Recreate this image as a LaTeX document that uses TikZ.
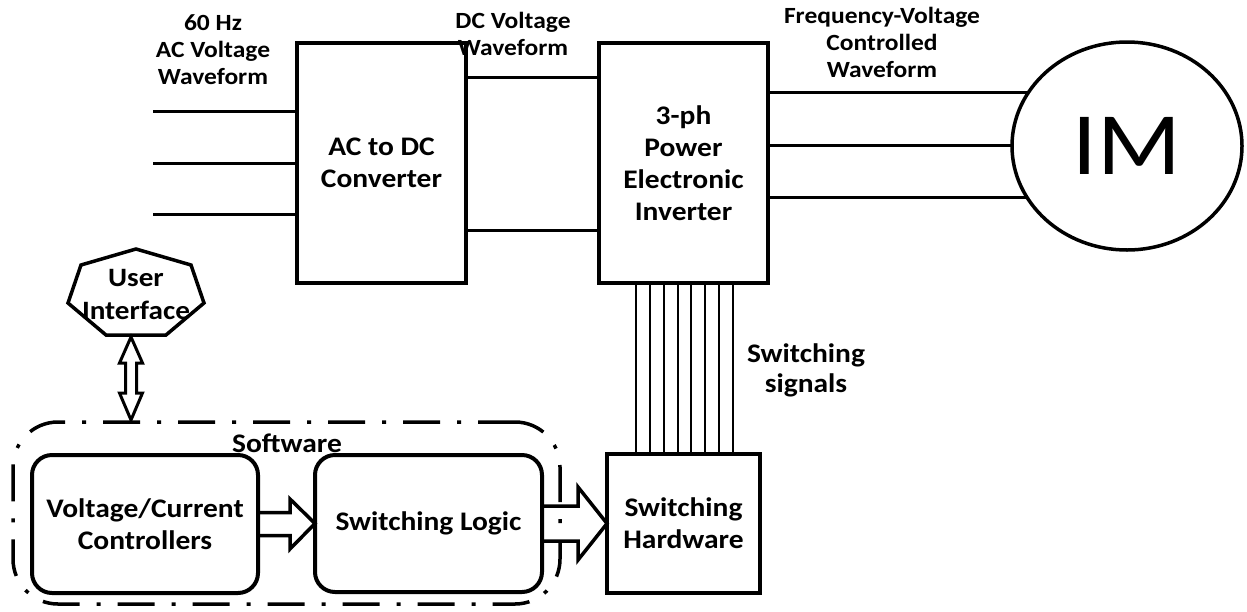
\documentclass[tikz,border=0pt]{standalone}
\usepackage{fontspec}
\setmainfont{Carlito}[FakeStretch=1.1]
\newfontfamily\imfont{Carlito}[FakeStretch=1.1]
\usetikzlibrary{shapes.geometric,calc,backgrounds}
\newcommand\bxfont{\bfseries\fontsize{26.8}{32}\selectfont}
\newcommand\lbfont{\bfseries\fontsize{23.2}{27}\selectfont}
\begin{document}
\begin{tikzpicture}[x=1pt,y=-1pt,
  blk/.style={draw, line width=4pt, inner sep=0pt, outer sep=0pt, align=center, font=\bxfont},
  rblk/.style={blk, rounded corners=20pt},
  lbl/.style={align=center, font=\lbfont, inner sep=0pt},
  wire/.style={line width=3pt},
  sig/.style={line width=1.4pt},
  barrow/.style={line width=3.5pt, line join=miter},
  swbox/.style={draw, line width=3.5pt, rounded corners=45pt, dash pattern=on 37pt off 17pt on 4pt off 17pt, inner sep=0pt, outer sep=0pt}]
\useasboundingbox (0,0) rectangle (1247,611);

% main power path
\node[blk, minimum width=169pt, minimum height=240pt] (acdc) at (381.5,163) {AC to DC\\Converter};
\node[blk, minimum width=169pt, minimum height=240pt] (inv) at (683.5,163) {3-ph\\Power\\Electronic\\Inverter};
\node[draw, ellipse, line width=3.5pt, fill=white, minimum width=230pt, minimum height=208pt, inner sep=0pt,
      font=\imfont\fontsize{89}{89}\selectfont] (im) at (1127,146) {IM};

% labels
\node[lbl] (l60) at (213,50) {60 Hz\\AC Voltage\\Waveform};
\node[lbl] (ldc) at (513,34) {DC Voltage\\Waveform};
\node[lbl] (lfv) at (882,42) {Frequency-Voltage\\Controlled\\Waveform};
\node[lbl, font=\bxfont\fontsize{26.8}{30}\selectfont] (lss) at (806,370) {Switching\\signals};

% input wires
\coordinate (in1) at (153,111);
\coordinate (in2) at (153,163);
\coordinate (in3) at (153,214);
\foreach \c in {in1,in2,in3} \draw[wire] (\c) -- (\c -| acdc.west);

% DC link
\draw[wire] ([yshift=86pt]acdc.east) -- ([yshift=86pt]inv.west);
\draw[wire] ([yshift=-67pt]acdc.east) -- ([yshift=-67pt]inv.west);

% output wires (behind the motor)
\begin{pgfonlayer}{background}
\foreach \dy in {71,18,-34} \draw[wire] ([yshift=\dy pt]inv.east) -- ([yshift=\dy pt]inv.east -| im.center);
\end{pgfonlayer}

% control part
\node[blk, minimum width=153pt, minimum height=139pt] (hw) at (683.5,523.5) {Switching\\Hardware};
\node[rblk, minimum width=226pt, minimum height=138pt] (ctrl) at (145,524) {Voltage/Current\\Controllers};
\node[rblk, minimum width=227pt, minimum height=137pt] (sl) at (428.5,523.5) {Switching Logic};
\node[swbox, minimum width=547pt, minimum height=182pt] (sw) at (286.5,513) {};
\node[lbl, font=\bxfont] (swl) at (287,443) {Software};

% switching signals
\foreach \dx in {-47.5,-33.5,-19.5,-5.5,7.5,21.5,35.5,49.5}
  \draw[sig] ([xshift=\dx pt]inv.south) -- ([xshift=\dx pt]inv.south |- hw.north);

% block arrows
\draw[barrow] ($(ctrl.east)+(0,-11.5)$) -- ++(32,0) -- ++(0,-13.5) -- (sl.west)
  -- ($(ctrl.east)+(32,25)$) -- ++(0,-13.5) -- ($(ctrl.east)+(0,11.5)$);
\draw[barrow] ($(sl.east)+(0,-17.5)$) -- ++(36,0) -- ++(0,-19) -- (hw.west)
  -- ($(sl.east)+(36,36.5)$) -- ++(0,-19) -- ($(sl.east)+(0,17.5)$);

% user interface
\draw[line width=3.5pt, line join=miter] (136,249) -- (191,265) -- (204,303) -- (166,335) -- (106,335) -- (68,303) -- (81,265) -- cycle;
\node[lbl, font=\bxfont\fontsize{26.5}{33}\selectfont] (ui) at (136,294) {User\\Interface};
\coordinate (uib) at (131,337);
\coordinate (uit) at (uib |- sw.north);
\draw[barrow, line width=3pt] (uib) -- ++(11.5,26) -- ++(-6,0) -- ++(0,30) -- ++(6,0) -- ($(uit)+(0,-2)$)
  -- ++(-11.5,-27) -- ++(6,0) -- ++(0,-30) -- ++(-6,0) -- cycle;
\end{tikzpicture}
\end{document}
